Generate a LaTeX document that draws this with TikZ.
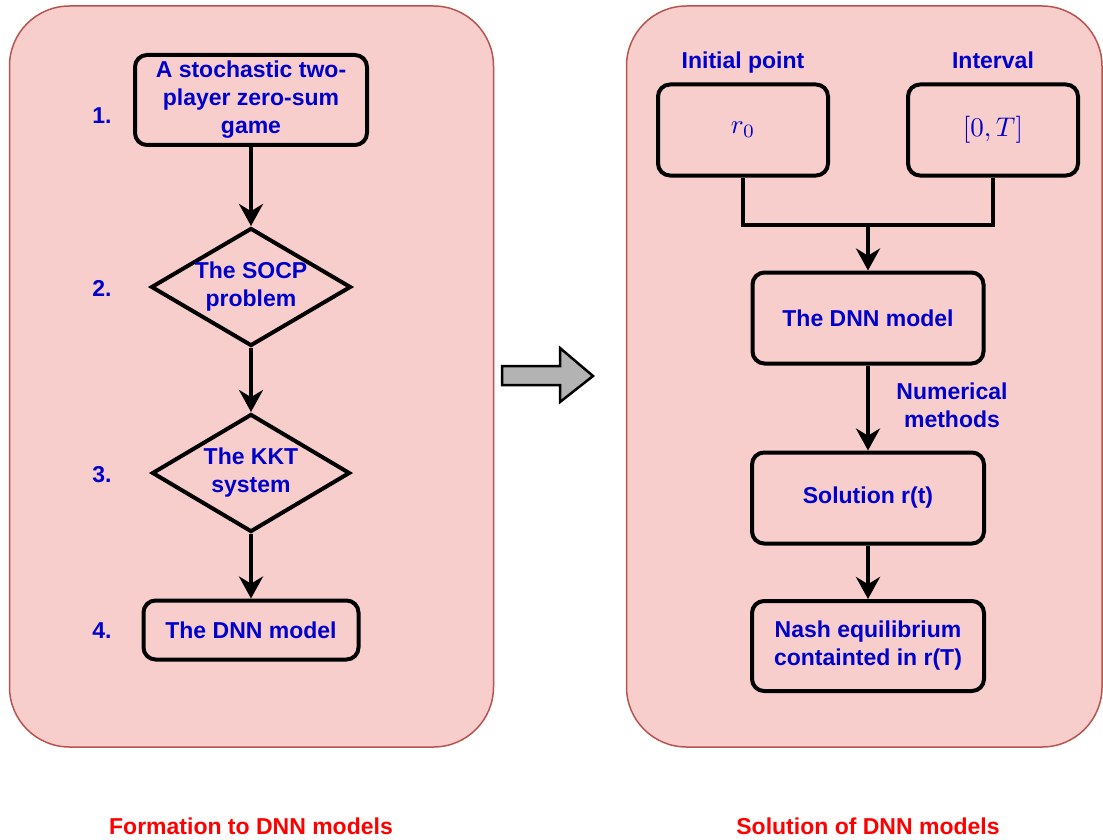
\documentclass[tikz,border=0pt]{standalone}
\usepackage{graphicx}
\usepackage{fontspec}
\newfontfamily\arialfont{Liberation Sans}
\usetikzlibrary{arrows.meta,shapes.geometric}

\definecolor{panelfill}{HTML}{F8CECC}
\definecolor{paneldraw}{HTML}{B85450}
\definecolor{textblue}{HTML}{0000CC}
\definecolor{arrowgray}{HTML}{B3B3B3}

\newcommand{\labelfont}{\fontsize{23}{28}\selectfont\arialfont\bfseries}
\newcommand{\bigmath}[1]{\scalebox{2.7}{$#1$}}

\tikzset{
	panel/.style={draw=paneldraw, fill=panelfill, line width=1.5pt, rounded corners=60pt},
	flowbox/.style={draw=black, line width=4pt, rounded corners=12pt, align=center, inner sep=0pt, text=textblue, font=\labelfont},
	flowdiamond/.style={diamond, draw=black, line width=4pt, align=center, inner sep=-4pt, shape aspect=1.7, text=textblue, font=\labelfont},
	flowarrow/.style={-{Stealth[length=22pt,width=24pt]}, line width=4pt},
	steplabel/.style={text=textblue, font=\labelfont},
	caption/.style={text=red, font=\labelfont},
	mathbox/.style={flowbox, font=\normalsize}
}

\begin{document}
\begin{tikzpicture}[x=1pt,y=1pt,yscale=-1,xscale=1]
	\useasboundingbox (0,0) rectangle (1103,840);

	%Shape: Rounded Rectangle (left panel)
	\draw [panel] (9.5,6) rectangle (493.5,747);
	%Shape: Rounded Rectangle (right panel)
	\draw [panel] (626.5,6) rectangle (1102,747);

	%Shape: Right Arrow
	\draw [line width=2.5pt, fill=arrowgray, line join=miter] (502,366) -- (560,366) -- (560,348) -- (593,376) -- (560,402) -- (560,385) -- (502,385) -- cycle ;

	% Left flow
	\node [flowbox, minimum width=232pt, minimum height=90pt] (game) at (251,100) {A stochastic two-\\player zero-sum\\game};
	\node [flowdiamond, minimum width=200pt, minimum height=118pt] (socp) at (251,287) {The SOCP\\problem};
	\node [flowdiamond, minimum width=198pt, minimum height=118pt] (kkt) at (251,473) {The KKT\\system};
	\node [flowbox, minimum width=215pt, minimum height=59pt] (dnnleft) at (251,630) {The DNN model};

	% Text Node
	\node [steplabel] (one) at (102,116) {1.};
	\node [steplabel] (two) at (102,288) {2.};
	\node [steplabel] (three) at (102,475) {3.};
	\node [steplabel] (four) at (102,631) {4.};

	\draw [flowarrow] (game) -- (socp);
	\draw [flowarrow] (socp) -- (kkt);
	\draw [flowarrow] (kkt) -- (dnnleft);

	% Right flow
	\node [mathbox, minimum width=170pt, minimum height=91pt] (init) at (743,130) {\bigmath{r_0}};
	\node [mathbox, minimum width=170pt, minimum height=91pt] (interval) at (993,130) {\bigmath{[0,T]}};
	\node [flowbox, minimum width=231pt, minimum height=91pt] (dnnright) at (868,318) {The DNN model};
	\node [flowbox, minimum width=232pt, minimum height=91pt] (solution) at (868,498) {Solution r(t)};
	\node [flowbox, minimum width=232pt, minimum height=90pt] (nash) at (868,646) {Nash equilibrium\\containted in r(T)};

	% Text Node
	\node [steplabel, anchor=base] (initlabel) at (743,69) {Initial point};
	\node [steplabel, anchor=base] (intervallabel) at (993,69) {Interval};
	\node [steplabel, align=center] (numlabel) at (952,405) {Numerical\\methods};

	\coordinate (join) at (868,225);
	\draw [line width=4pt] (init.south) |- (join) -| (interval.south);
	\draw [flowarrow] (join) -- (dnnright);
	\draw [flowarrow] (dnnright) -- (solution);
	\draw [flowarrow] (solution) -- (nash);

	% Text Node
	\node [caption] (leftcaption) at (251,826) {Formation to DNN models};
	\node [caption] (rightcaption) at (868,826) {Solution of DNN models};

\end{tikzpicture}
\end{document}
